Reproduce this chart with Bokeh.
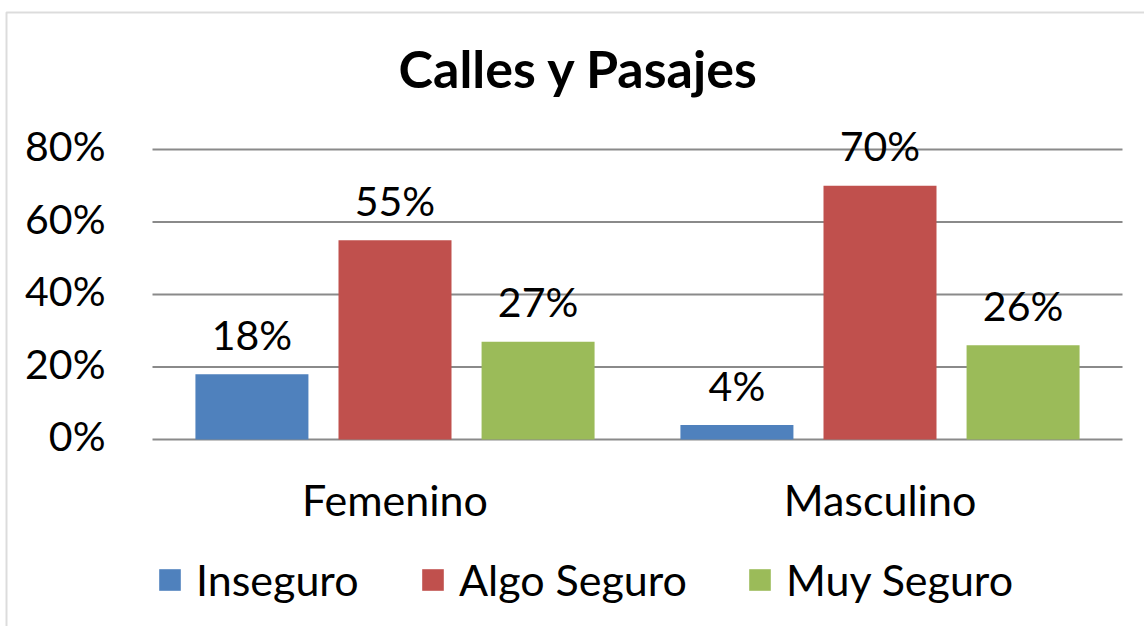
from bokeh.plotting import figure
from bokeh.models import (Range1d, ColumnDataSource, Label, Legend, LegendItem, BoxAnnotation)
from bokeh.core.properties import value
from bokeh.transform import dodge
from bokeh.embed import file_html
from bokeh.resources import INLINE

# ---- data ----
categories = ["Femenino", "Masculino"]
series = ["Inseguro", "Algo Seguro", "Muy Seguro"]
inseguro = [0.18, 0.04]
algo_seguro = [0.55, 0.70]
muy_seguro = [0.27, 0.26]
y_ticks = [0.0, 0.2, 0.4, 0.6, 0.8]
title_text = "Calles y Pasajes"

# ---- style ----
colors = ["#4F81BD", "#C0504D", "#9BBB59"]
offsets = [-0.295, 0.0, 0.295]
bar_width = 0.233
FONT = "Lato"
NUM_FS = "41px"
TXT_FS = "43px"
GRID = "#8A8A8A"

W, H = 1144, 626
PX_X, PX_Y = 485.0, 362.5        # pixels per data unit
X0_PX, Y0_PX = 152.0, 439.0      # canvas position of data origin

cat_x = [i + 0.5 for i in range(len(categories))]
src = ColumnDataSource(data=dict(
    x=cat_x,
    Inseguro=inseguro,
    AlgoSeguro=algo_seguro,
    MuySeguro=muy_seguro,
    lab0=[f"{round(v*100)}%" for v in inseguro],
    lab1=[f"{round(v*100)}%" for v in algo_seguro],
    lab2=[f"{round(v*100)}%" for v in muy_seguro],
))
cols = ["Inseguro", "AlgoSeguro", "MuySeguro"]

p = figure(width=W, height=H, output_backend="svg", toolbar_location=None,
           x_axis_location=None, y_axis_location=None,
           x_range=Range1d(-X0_PX / PX_X, (W - X0_PX) / PX_X),
           y_range=Range1d(-(H - Y0_PX) / PX_Y, Y0_PX / PX_Y),
           min_border=0, min_border_left=0, min_border_right=0,
           min_border_top=0, min_border_bottom=0)
p.outline_line_color = None
p.background_fill_color = "white"
p.border_fill_color = "white"
p.title.visible = False
p.grid.grid_line_color = None
p.grid.visible = False

# gridlines (behind bars)
p.segment(x0=[0] * len(y_ticks), x1=[len(categories)] * len(y_ticks),
          y0=y_ticks, y1=y_ticks, line_color=GRID, line_width=2)

# y tick labels
p.text(x=[0] * len(y_ticks), y=y_ticks, text=[f"{round(t*100)}%" for t in y_ticks],
       x_offset=-47, y_offset=-4, text_align="right", text_baseline="middle",
       text_font=value(FONT), text_font_size=NUM_FS, text_color="black")

# category labels
p.text(x=cat_x, y=[0] * len(categories), text=categories, y_offset=60,
       text_align="center", text_baseline="alphabetic",
       text_font=value(FONT), text_font_size=TXT_FS, text_color="black")

renderers = []
for i, c in enumerate(cols):
    r = p.vbar(x=dodge("x", offsets[i]), top=c, width=bar_width,
               source=src, fill_color=colors[i], line_color=None)
    renderers.append(r)
    p.text(x=dodge("x", offsets[i]), y=c, text=f"lab{i}", source=src, y_offset=-40,
           text_align="center", text_baseline="alphabetic",
           text_font=value(FONT), text_font_size=NUM_FS, text_color="black")

# title
p.add_layout(Label(x=578.5, y=H - 67, x_units="screen", y_units="screen", text=title_text,
                   text_align="center", text_baseline="alphabetic", text_font=FONT,
                   text_font_style="bold", text_font_size="52px", text_color="black"))

# legends (one per item)
leg_x = [156, 419, 746]
for i, s in enumerate(series):
    lg = Legend(items=[LegendItem(label=s, renderers=[renderers[i]])],
                location=(leg_x[i], 21), orientation="horizontal",
                glyph_width=27, glyph_height=27, label_standoff=13,
                padding=0, margin=0, border_line_color=None, background_fill_alpha=0,
                label_text_font=FONT, label_text_font_size=TXT_FS, label_text_color="black")
    p.add_layout(lg, "center")

# chart border
p.add_layout(BoxAnnotation(left=6, right=1400, top=12, bottom=1000,
                           left_units="canvas", right_units="canvas",
                           top_units="canvas", bottom_units="canvas",
                           fill_alpha=0, line_color="#8C8C8C", line_width=2))

open("out.html", "w").write(file_html(p, INLINE))
